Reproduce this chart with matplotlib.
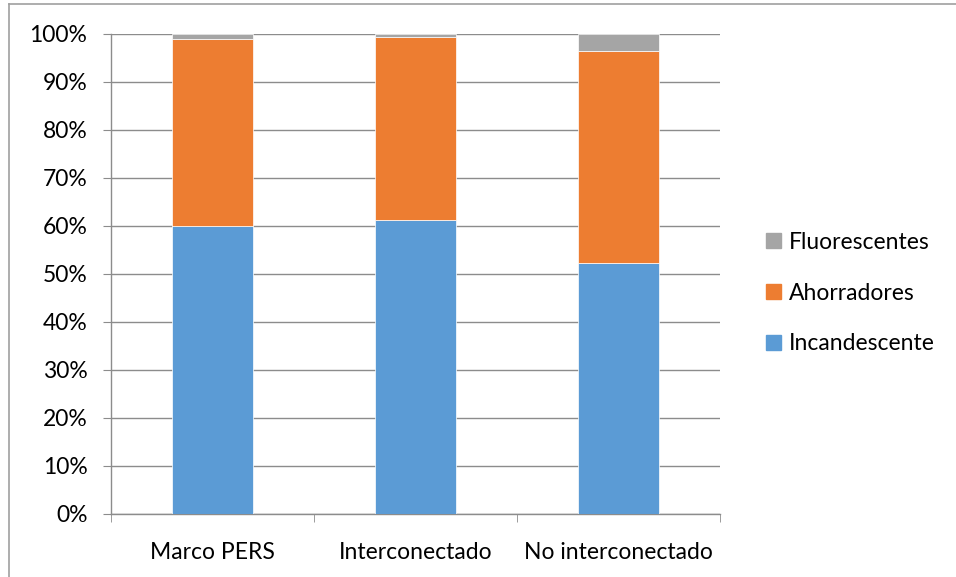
import numpy as np
import matplotlib.pyplot as plt
from matplotlib.lines import Line2D
from matplotlib.patches import Patch
from matplotlib.ticker import FuncFormatter

plt.rcParams['font.family'] = ['Lato', 'DejaVu Sans']

categories = ['Marco PERS', 'Interconectado', 'No interconectado']
incandescente = [60.0, 61.2, 52.3]
ahorradores = [38.9, 38.1, 44.1]
fluorescentes = [1.1, 0.7, 3.6]

colors = {'Incandescente': '#5B9BD5', 'Ahorradores': '#ED7D31', 'Fluorescentes': '#A5A5A5'}

fig = plt.figure(figsize=(9.56, 5.77), dpi=100)
ax = fig.add_axes([111/956, 1 - 514/577, (720 - 111)/956, (514 - 34)/577])

x = np.arange(len(categories))
w = 0.4
inc = np.array(incandescente)
aho = np.array(ahorradores)
flu = np.array(fluorescentes)
ax.bar(x, inc, w, color=colors['Incandescente'], edgecolor='white', linewidth=0.5, zorder=3)
ax.bar(x, aho, w, bottom=inc, color=colors['Ahorradores'], edgecolor='white', linewidth=0.5, zorder=3)
ax.bar(x, flu, w, bottom=inc + aho, color=colors['Fluorescentes'], edgecolor='white', linewidth=0.5, zorder=3)

ax.set_xlim(-0.5, 2.5)
ax.set_ylim(0, 100)
ax.set_yticks(np.arange(0, 101, 10))
ax.yaxis.set_major_formatter(FuncFormatter(lambda v, p: '%d%%' % v))
ax.grid(axis='y', color='#8c8c8c', linewidth=1.0, zorder=0)

ax.set_xticks(x)
ax.set_xticklabels(categories)
ax.set_xticks([-0.5, 0.5, 1.5, 2.5], minor=True)
ax.tick_params(axis='x', which='major', length=0, pad=20, labelsize=16.5)
ax.tick_params(axis='x', which='minor', length=6, color='#8c8c8c', direction='out')
ax.tick_params(axis='y', length=6, color='#8c8c8c', pad=11, labelsize=16.5)

for s in ['top', 'right']:
    ax.spines[s].set_visible(False)
for s in ['left', 'bottom']:
    ax.spines[s].set_color('#8c8c8c')
    ax.spines[s].set_linewidth(1.0)

handles = [Patch(color=colors[k]) for k in ['Fluorescentes', 'Ahorradores', 'Incandescente']]
leg = fig.legend(handles, ['Fluorescentes', 'Ahorradores', 'Incandescente'],
                 loc='center left', bbox_to_anchor=(745/956, 1 - 293/577),
                 frameon=False, fontsize=16.5, handlelength=0.65, handleheight=0.65,
                 handletextpad=0.35, labelspacing=1.3)

# chart border (top and left visible)
fig.add_artist(Line2D([9/956, 9/956], [0, 1 - 4/577], color='#a0a0a0', linewidth=1.2))
fig.add_artist(Line2D([9/956, 1], [1 - 4/577, 1 - 4/577], color='#a0a0a0', linewidth=1.2))

fig.savefig('out.png', dpi=100)
